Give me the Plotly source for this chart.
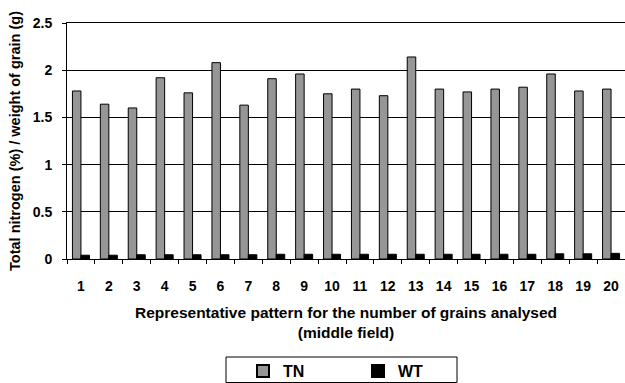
import plotly.graph_objects as go

categories = [str(i) for i in range(1, 21)]
tn_values = [1.78, 1.64, 1.60, 1.92, 1.76, 2.08, 1.63, 1.91, 1.96, 1.75,
             1.80, 1.73, 2.14, 1.80, 1.77, 1.80, 1.82, 1.96, 1.78, 1.80]
wt_values = [0.04, 0.04, 0.045, 0.045, 0.045, 0.045, 0.045, 0.05, 0.05, 0.05,
             0.05, 0.05, 0.05, 0.05, 0.05, 0.05, 0.05, 0.055, 0.055, 0.06]

FONT = "Liberation Sans, Arial, sans-serif"

# plot area in pixels (for placing the legend box)
PL, PR, PT, PB = 67, 625, 23, 259
def px_x(p):
    return (p - PL) / (PR - PL)
def px_y(p):
    return (PB - p) / (PB - PT)

fig = go.Figure()
fig.add_trace(go.Bar(name="TN", x=categories, y=tn_values,
                     marker=dict(color="#969696", line=dict(color="black", width=1))))
fig.add_trace(go.Bar(name="WT", x=categories, y=wt_values,
                     marker=dict(color="black", line=dict(color="black", width=1))))

fig.update_layout(
    width=625, height=383,
    margin=dict(l=PL, r=625 - PR, t=PT, b=383 - PB, autoexpand=False),
    paper_bgcolor="white", plot_bgcolor="white",
    barmode="group", bargap=0.39, bargroupgap=0,
    font=dict(family=FONT, size=14, color="black", weight="bold"),
    showlegend=True,
    legend=dict(orientation="h", x=px_x(243), xanchor="left", y=px_y(354), yanchor="top",
                borderwidth=0, bgcolor="rgba(0,0,0,0)",
                font=dict(family=FONT, size=16, color="black", weight="bold"),
                entrywidth=70, entrywidthmode="pixels",
                itemsizing="constant", tracegroupgap=0),
    shapes=[dict(type="rect", xref="paper", yref="paper",
                 x0=px_x(226), x1=px_x(457), y0=px_y(357), y1=px_y(382.5),
                 line=dict(color="black", width=1), fillcolor="rgba(0,0,0,0)",
                 layer="below")],
)
fig.update_xaxes(
    type="category", tickson="boundaries", ticks="outside", ticklen=4,
    tickcolor="black", showline=True, linecolor="black", linewidth=1,
    mirror=True,
    showgrid=False, range=[-0.5, 19.5], automargin=False,
    ticklabelstandoff=14,
    tickfont=dict(family=FONT, size=14, weight="bold"),
    title=dict(text="Representative pattern for the number of grains analysed<br>(middle field)",
               font=dict(family=FONT, size=15.5, weight="bold"), standoff=14),
)
fig.update_yaxes(
    range=[0, 2.5], tickvals=[0, 0.5, 1, 1.5, 2, 2.5],
    ticktext=["0", "0.5", "1", "1.5", "2", "2.5"],
    ticks="outside", ticklen=4, tickcolor="black", automargin=False,
    showline=True, linecolor="black", linewidth=1,
    showgrid=True, gridcolor="black", gridwidth=1,
    zeroline=False, ticklabelstandoff=7,
    tickfont=dict(family=FONT, size=14, weight="bold"),
    title=dict(text="Total nitrogen (%) / weight of grain (g)",
               font=dict(family=FONT, size=14.5, weight="bold"), standoff=8),
)

fig.write_html("out.html")
